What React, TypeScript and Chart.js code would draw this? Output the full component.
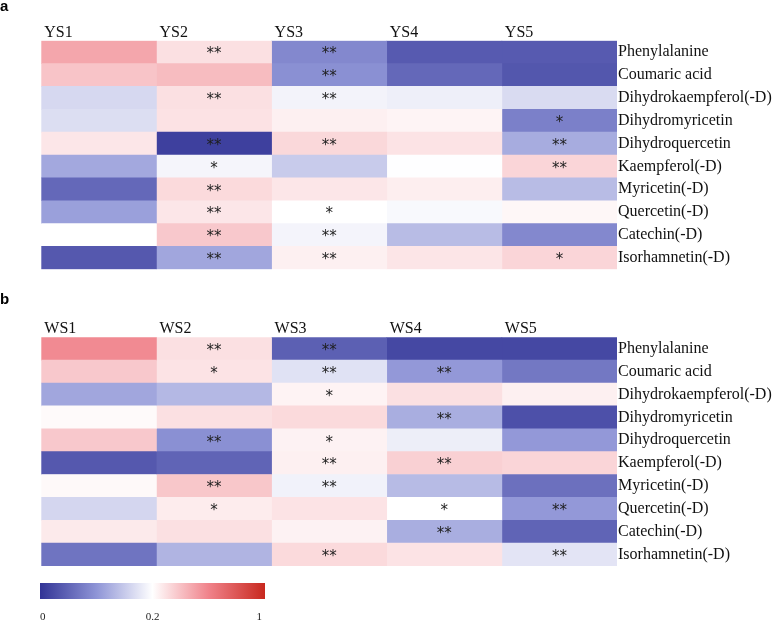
import React, { useEffect, useRef } from 'react';
import { Chart, registerables } from 'chart.js';

Chart.register(...registerables);

// ---------- data ----------
const ROWS = [
  'Phenylalanine',
  'Coumaric acid',
  'Dihydrokaempferol(-D)',
  'Dihydromyricetin',
  'Dihydroquercetin',
  'Kaempferol(-D)',
  'Myricetin(-D)',
  'Quercetin(-D)',
  'Catechin(-D)',
  'Isorhamnetin(-D)',
];

const YS_COLS = ['YS1', 'YS2', 'YS3', 'YS4', 'YS5'];
const WS_COLS = ['WS1', 'WS2', 'WS3', 'WS4', 'WS5'];

// values per column (top row first)
const YS1 = [0.485, 0.389, 0.164, 0.169, 0.28, 0.119, 0.054, 0.111, 0.201, 0.0375];
const YS2 = [0.299, 0.414, 0.3, 0.293, 0.0125, 0.191, 0.318, 0.28, 0.376, 0.117];
const YS3 = [0.0875, 0.096, 0.189, 0.248, 0.325, 0.151, 0.28, 0.2, 0.19, 0.248];
const YS4 = [0.04, 0.054, 0.185, 0.235, 0.29, 0.199, 0.254, 0.194, 0.137, 0.283];
const YS5 = [0.04, 0.036, 0.166, 0.079, 0.122, 0.334, 0.137, 0.226, 0.0875, 0.334];

const WS1 = [0.574, 0.376, 0.117, 0.216, 0.376, 0.0375, 0.22, 0.162, 0.267, 0.0667];
const WS2 = [0.299, 0.29, 0.134, 0.3, 0.096, 0.05, 0.38, 0.26, 0.3, 0.13];
const WS3 = [0.046, 0.173, 0.238, 0.32, 0.242, 0.248, 0.188, 0.29, 0.242, 0.32];
const WS4 = [0.021, 0.104, 0.3, 0.124, 0.184, 0.35, 0.136, 0.2, 0.124, 0.29];
const WS5 = [0.021, 0.071, 0.248, 0.029, 0.104, 0.334, 0.0625, 0.104, 0.05, 0.175];

// significance marks per column
const YS1_MARKS = ['', '', '', '', '', '', '', '', '', ''];
const YS2_MARKS = ['**', '', '**', '', '**', '*', '**', '**', '**', '**'];
const YS3_MARKS = ['**', '**', '**', '', '**', '', '', '*', '**', '**'];
const YS4_MARKS = ['', '', '', '', '', '', '', '', '', ''];
const YS5_MARKS = ['', '', '', '*', '**', '**', '', '', '', '*'];

const WS1_MARKS = ['', '', '', '', '', '', '', '', '', ''];
const WS2_MARKS = ['**', '*', '', '', '**', '', '**', '*', '', ''];
const WS3_MARKS = ['**', '**', '*', '', '*', '**', '**', '', '', '**'];
const WS4_MARKS = ['', '**', '', '**', '', '**', '', '*', '**', ''];
const WS5_MARKS = ['', '', '', '', '', '', '', '**', '', '**'];

const CBAR_TICKS = [0, 0.2, 1];

// ---------- colour scale ----------
const STOPS: [number, number[]][] = [
  [0, [50, 52, 150]],
  [0.1, [142, 148, 214]],
  [0.2, [255, 255, 255]],
  [0.6, [240, 130, 138]],
  [1, [200, 40, 30]],
];

function colorFor(v: number): string {
  for (let i = 1; i < STOPS.length; i++) {
    const [v1, c1] = STOPS[i];
    const [v0, c0] = STOPS[i - 1];
    if (v <= v1 || i === STOPS.length - 1) {
      const t = Math.max(0, Math.min(1, (v - v0) / (v1 - v0)));
      const c = c0.map((x, k) => Math.round(x + (c1[k] - x) * t));
      return `rgb(${c[0]},${c[1]},${c[2]})`;
    }
  }
  return '#fff';
}

function cbarPos(v: number): number {
  return v <= 0.2 ? (v / 0.2) * 0.5 : 0.5 + ((v - 0.2) / 0.8) * 0.5;
}

const SERIF = '"Liberation Serif", "Times New Roman", serif';

const starsPlugin = (marks: string[][]) => ({
  id: 'stars',
  afterDatasetsDraw(chart: any) {
    const ctx = chart.ctx;
    ctx.save();
    ctx.fillStyle = '#1e1e1e';
    ctx.font = '15px "DejaVu Sans", sans-serif';
    ctx.textAlign = 'center';
    ctx.textBaseline = 'alphabetic';
    marks.forEach((col, c) => {
      const meta = chart.getDatasetMeta(c);
      col.forEach((m, i) => {
        if (!m) return;
        const el = meta.data[i];
        const p = el.getCenterPoint();
        ctx.fillText(m, p.x, p.y + 6.3);
      });
    });
    ctx.restore();
  },
});

const colorbarPlugin = {
  id: 'colorbar',
  afterDraw(chart: any) {
    const ctx = chart.ctx;
    const left = 40;
    const width = 225;
    const top = 283;
    const h = 16;
    const g = ctx.createLinearGradient(left, 0, left + width, 0);
    STOPS.forEach(([v, c]) => g.addColorStop(cbarPos(v), `rgb(${c[0]},${c[1]},${c[2]})`));
    ctx.save();
    ctx.fillStyle = g;
    ctx.fillRect(left, top, width, h);
    ctx.fillStyle = '#222';
    ctx.font = `11px ${SERIF}`;
    ctx.textBaseline = 'middle';
    CBAR_TICKS.forEach((t, i) => {
      let x = left + cbarPos(t) * width;
      if (i === 0) ctx.textAlign = 'left';
      else if (i === CBAR_TICKS.length - 1) {
        ctx.textAlign = 'right';
        x -= 3;
      } else ctx.textAlign = 'center';
      ctx.fillText(String(t), x, 317.5);
    });
    ctx.restore();
  },
};

function makeHeatmap(
  canvas: HTMLCanvasElement,
  cols: string[],
  values: number[][],
  marks: string[][],
  axisHeight: number,
  bottomPad: number,
  extra: any[]
) {
  return new Chart(canvas, {
    type: 'bar',
    data: {
      labels: ROWS,
      datasets: values.map((vals, c) => ({
        label: cols[c],
        data: vals.map(() => [c, c + 1]) as any,
        backgroundColor: vals.map(colorFor),
        borderWidth: 0,
        grouped: false,
        barPercentage: 1,
        categoryPercentage: 1,
      })),
    },
    options: {
      indexAxis: 'y',
      responsive: false,
      animation: false,
      layout: { padding: { left: 41.3, top: 0, right: 0, bottom: bottomPad } },
      plugins: { legend: { display: false }, tooltip: { enabled: false } },
      scales: {
        x: {
          type: 'linear',
          position: 'top',
          min: 0,
          max: 5,
          grid: { display: false, drawTicks: false },
          border: { display: false },
          ticks: {
            stepSize: 1,
            align: 'start',
            labelOffset: 3,
            padding: -1.5,
            maxRotation: 0,
            autoSkip: false,
            color: '#111',
            font: { family: SERIF, size: 16 },
            callback: (v: any) => cols[v] ?? '',
          },
          afterFit: (s: any) => {
            s.height = axisHeight;
          },
        },
        y: {
          type: 'category',
          position: 'right',
          grid: { display: false, drawTicks: false },
          border: { display: false },
          ticks: {
            padding: 1,
            color: '#111',
            autoSkip: false,
            font: { family: SERIF, size: 16 },
          },
          afterFit: (s: any) => {
            s.width = 160;
          },
        },
      },
    } as any,
    plugins: [starsPlugin(marks), ...extra],
  });
}

export default function App() {
  const refA = useRef<HTMLCanvasElement>(null);
  const refB = useRef<HTMLCanvasElement>(null);

  useEffect(() => {
    const a = makeHeatmap(
      refA.current!,
      YS_COLS,
      [YS1, YS2, YS3, YS4, YS5],
      [YS1_MARKS, YS2_MARKS, YS3_MARKS, YS4_MARKS, YS5_MARKS],
      40.7,
      30.7,
      []
    );
    const b = makeHeatmap(
      refB.current!,
      WS_COLS,
      [WS1, WS2, WS3, WS4, WS5],
      [WS1_MARKS, WS2_MARKS, WS3_MARKS, WS4_MARKS, WS5_MARKS],
      37.3,
      55,
      [colorbarPlugin]
    );
    return () => {
      a.destroy();
      b.destroy();
    };
  }, []);

  const panelLabel: React.CSSProperties = {
    position: 'absolute',
    left: 0,
    fontFamily: '"Liberation Sans", Arial, sans-serif',
    fontWeight: 'bold',
    fontSize: 15,
    lineHeight: '15px',
    color: '#000',
  };

  return (
    <div style={{ position: 'absolute', left: 0, top: 0, width: 777, height: 621, background: '#fff', overflow: 'hidden' }}>
      <canvas ref={refA} width={777} height={300} style={{ position: 'absolute', left: 0, top: 0, display: 'block' }} />
      <canvas ref={refB} width={777} height={321} style={{ position: 'absolute', left: 0, top: 300, display: 'block' }} />
      <div style={{ ...panelLabel, top: -1.7 }}>a</div>
      <div style={{ ...panelLabel, top: 291.3 }}>b</div>
    </div>
  );
}
